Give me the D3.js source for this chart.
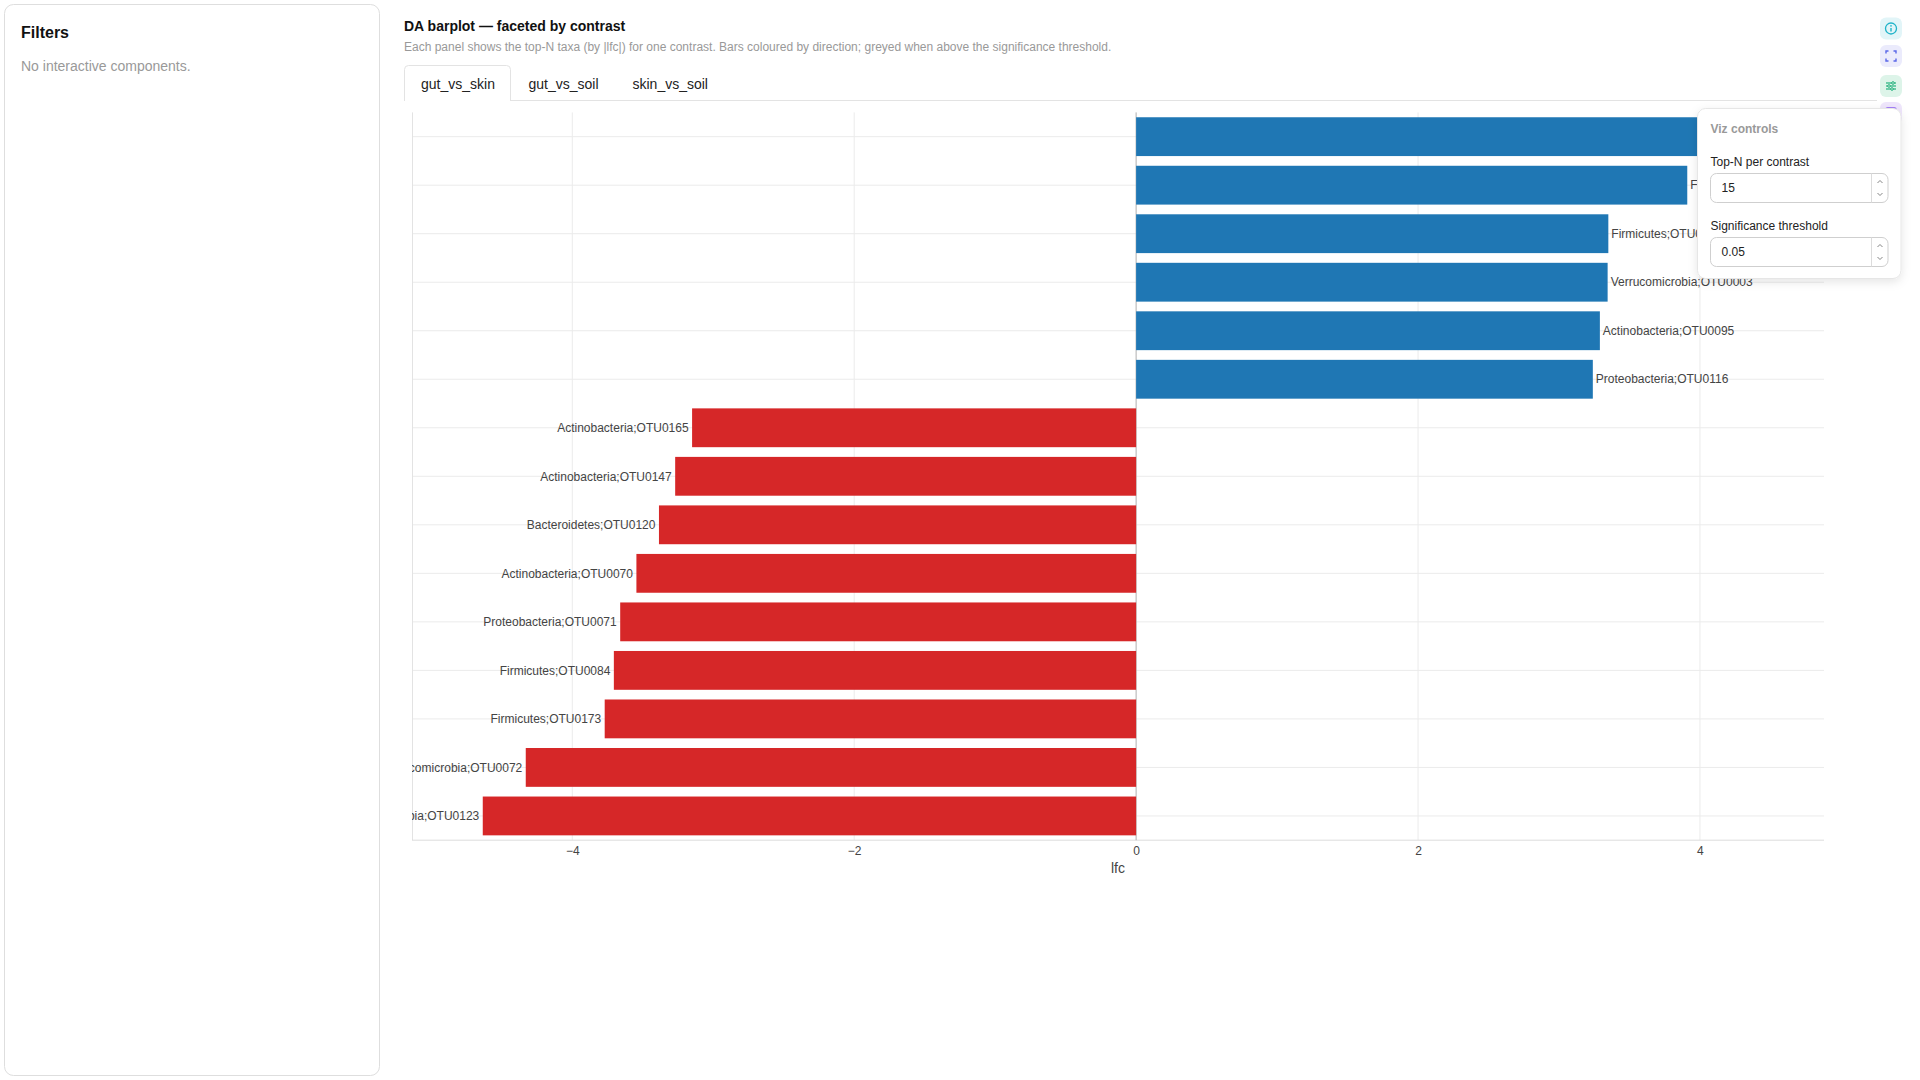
<!DOCTYPE html>
<html>
<head>
<meta charset="utf-8">
<script src="https://cdn.jsdelivr.net/npm/d3@7"></script>
<style>
html,body{margin:0;padding:0;background:#fff;}
svg{display:block;font-family:"Liberation Sans",Arial,sans-serif;}
</style>
</head>
<body>
<div id="page"></div>
<script>
// ---------------- data ----------------
const contrasts = ["gut_vs_skin", "gut_vs_soil", "skin_vs_soil"];
const taxa = [
  "Proteobacteria;OTU0031",
  "Firmicutes;OTU0049",
  "Firmicutes;OTU0018",
  "Verrucomicrobia;OTU0003",
  "Actinobacteria;OTU0095",
  "Proteobacteria;OTU0116",
  "Actinobacteria;OTU0165",
  "Actinobacteria;OTU0147",
  "Bacteroidetes;OTU0120",
  "Actinobacteria;OTU0070",
  "Proteobacteria;OTU0071",
  "Firmicutes;OTU0084",
  "Firmicutes;OTU0173",
  "Verrucomicrobia;OTU0072",
  "Verrucomicrobia;OTU0123"
];
const lfc = [4.38, 3.91, 3.35, 3.345, 3.29, 3.24, -3.15, -3.27, -3.385, -3.545, -3.66, -3.705, -3.77, -4.33, -4.635];
const xTicks = [-4, -2, 0, 2, 4];
const xDomain = [-5.137, 4.88];
const topN = "15";
const sigThreshold = "0.05";

// ---------------- layout ----------------
const W = 1920, H = 1080;
const P = {left: 412, right: 1824, top: 112.4, bottom: 840.2};
const FONT = '"Liberation Sans",Arial,sans-serif';

const svg = d3.select("#page").append("svg").attr("width", W).attr("height", H);
const defs = svg.append("defs");
defs.append("clipPath").attr("id", "plotclip").append("rect")
  .attr("x", P.left).attr("y", P.top).attr("width", P.right - P.left).attr("height", P.bottom - P.top);
const sh = defs.append("filter").attr("id", "shadow").attr("x", "-20%").attr("y", "-20%").attr("width", "140%").attr("height", "150%");
sh.append("feDropShadow").attr("dx", 0).attr("dy", 3).attr("stdDeviation", 5).attr("flood-color", "#000").attr("flood-opacity", 0.10);

// ---------------- filters panel ----------------
svg.append("rect").attr("x", 4.5).attr("y", 4.5).attr("width", 375).attr("height", 1071)
  .attr("rx", 9).attr("fill", "#fff").attr("stroke", "#dedede");
svg.append("text").attr("x", 21).attr("y", 38.3).attr("font-size", 16).attr("font-weight", "bold")
  .attr("fill", "#111").text("Filters");
svg.append("text").attr("x", 21).attr("y", 70.5).attr("font-size", 14).attr("fill", "#999")
  .text("No interactive components.");

// ---------------- header ----------------
svg.append("text").attr("x", 404).attr("y", 30.7).attr("font-size", 14).attr("font-weight", "bold")
  .attr("fill", "#111").text("DA barplot \u2014 faceted by contrast");
svg.append("text").attr("x", 404).attr("y", 51).attr("font-size", 12).attr("fill", "#999")
  .text("Each panel shows the top-N taxa (by |lfc|) for one contrast. Bars coloured by direction; greyed when above the significance threshold.");

// tabs
svg.append("line").attr("x1", 404).attr("x2", 1877).attr("y1", 100.5).attr("y2", 100.5).attr("stroke", "#e3e3e3");
svg.append("path").attr("d", "M404.5,101 V69.5 Q404.5,65.5 408.5,65.5 H506.5 Q510.5,65.5 510.5,69.5 V101")
  .attr("fill", "#fff").attr("stroke", "#e3e3e3");
const tabX = [421, 528.5, 632.5];
svg.selectAll("text.tab").data(contrasts).join("text").attr("class", "tab")
  .attr("x", (d, i) => tabX[i]).attr("y", 88.5).attr("font-size", 14).attr("fill", "#222").text(d => d);

// ---------------- chart ----------------
const x = d3.scaleLinear().domain(xDomain).range([P.left, P.right]);
const y = d3.scaleBand().domain(taxa).range([P.top, P.bottom]).paddingInner(0.2).paddingOuter(0.1);
const yc = t => y(t) + y.bandwidth() / 2;

const g = svg.append("g");
// vertical gridlines
g.selectAll("line.vg").data(xTicks.filter(v => v !== 0)).join("line").attr("class", "vg")
  .attr("x1", d => x(d)).attr("x2", d => x(d)).attr("y1", P.top).attr("y2", P.bottom)
  .attr("stroke", "#ebebeb").attr("stroke-width", 1);
// horizontal gridlines
g.selectAll("line.hg").data(taxa).join("line").attr("class", "hg")
  .attr("x1", P.left).attr("x2", P.right).attr("y1", d => yc(d)).attr("y2", d => yc(d))
  .attr("stroke", "#ebebeb").attr("stroke-width", 1);
// left & bottom frame lines
g.append("line").attr("x1", P.left + 0.5).attr("x2", P.left + 0.5).attr("y1", P.top).attr("y2", P.bottom)
  .attr("stroke", "#e3e3e3");
g.append("line").attr("x1", P.left).attr("x2", P.right).attr("y1", P.bottom).attr("y2", P.bottom)
  .attr("stroke", "#dcdcdc");
// zero line
g.append("line").attr("x1", x(0)).attr("x2", x(0)).attr("y1", P.top).attr("y2", P.bottom)
  .attr("stroke", "#b0b0b0").attr("stroke-width", 1);

// bars
const data = taxa.map((t, i) => ({taxon: t, v: lfc[i]}));
g.selectAll("rect.bar").data(data).join("rect").attr("class", "bar")
  .attr("x", d => x(Math.min(0, d.v)))
  .attr("width", d => Math.abs(x(d.v) - x(0)))
  .attr("y", d => y(d.taxon))
  .attr("height", y.bandwidth())
  .attr("fill", d => d.v >= 0 ? "#1f77b4" : "#d62728");

// bar labels (outside, clipped to plot)
g.append("g").attr("clip-path", "url(#plotclip)")
  .selectAll("text").data(data).join("text")
  .attr("x", d => d.v >= 0 ? x(d.v) + 3 : x(d.v) - 3.5)
  .attr("y", d => yc(d.taxon))
  .attr("dy", "0.35em")
  .attr("text-anchor", d => d.v >= 0 ? "start" : "end")
  .attr("font-size", 12).attr("fill", "#444")
  .text(d => d.taxon);

// x axis
const ax = svg.append("g").attr("transform", `translate(0,${P.bottom})`)
  .call(d3.axisBottom(x).tickValues(xTicks).tickSize(0).tickPadding(6.3));
ax.select(".domain").remove();
ax.selectAll("text").attr("font-size", 12).attr("fill", "#444").attr("font-family", FONT);
svg.append("text").attr("x", (P.left + P.right) / 2).attr("y", 872.7).attr("text-anchor", "middle")
  .attr("font-size", 14).attr("fill", "#444").text("lfc");

// ---------------- toolbar icons ----------------
const icons = [
  {y: 17.5, bg: "#e2f5f8", fg: "#1fb3c9"},
  {y: 45, bg: "#ebebfc", fg: "#5a67e8"},
  {y: 75, bg: "#ddf4e9", fg: "#22b07c"},
  {y: 102, bg: "#efe6fc", fg: "#8b5cf6"}
];
const ig = svg.append("g");
icons.forEach((ic, i) => {
  const gx = 1880, gy = ic.y, cx = gx + 11, cy = gy + 11;
  ig.append("rect").attr("x", gx).attr("y", gy).attr("width", 22).attr("height", 22).attr("rx", 6).attr("fill", ic.bg);
  if (i === 0) {
    ig.append("circle").attr("cx", cx).attr("cy", cy).attr("r", 5.5).attr("fill", "none").attr("stroke", ic.fg).attr("stroke-width", 1.3);
    ig.append("line").attr("x1", cx).attr("x2", cx).attr("y1", cy - 0.5).attr("y2", cy + 3).attr("stroke", ic.fg).attr("stroke-width", 1.4);
    ig.append("circle").attr("cx", cx).attr("cy", cy - 2.6).attr("r", 0.8).attr("fill", ic.fg);
  } else if (i === 1) {
    const s = 5, k = 2.5;
    const p = `M${cx - s},${cy - s + k}V${cy - s}H${cx - s + k} M${cx + s - k},${cy - s}H${cx + s}V${cy - s + k} M${cx + s},${cy + s - k}V${cy + s}H${cx + s - k} M${cx - s + k},${cy + s}H${cx - s}V${cy + s - k}`;
    ig.append("path").attr("d", p).attr("fill", "none").attr("stroke", ic.fg).attr("stroke-width", 1.4);
  } else if (i === 2) {
    [-3, 0, 3].forEach((dy, j) => {
      ig.append("line").attr("x1", cx - 5).attr("x2", cx + 5).attr("y1", cy + dy).attr("y2", cy + dy).attr("stroke", ic.fg).attr("stroke-width", 1.2);
      ig.append("circle").attr("cx", cx + [2, -2, 1][j]).attr("cy", cy + dy).attr("r", 1.3).attr("fill", ic.bg).attr("stroke", ic.fg).attr("stroke-width", 1);
    });
  } else {
    ig.append("rect").attr("x", cx - 5).attr("y", cy - 5).attr("width", 10).attr("height", 10).attr("rx", 1.5)
      .attr("fill", "none").attr("stroke", ic.fg).attr("stroke-width", 1.4);
  }
});

// ---------------- viz controls popup ----------------
const pop = svg.append("g");
pop.append("rect").attr("x", 1697.5).attr("y", 108.5).attr("width", 203.5).attr("height", 170).attr("rx", 8)
  .attr("fill", "#fff").attr("stroke", "#e6e6e6").attr("filter", "url(#shadow)");
pop.append("text").attr("x", 1710.5).attr("y", 133.3).attr("font-size", 12).attr("font-weight", "bold")
  .attr("fill", "#999").text("Viz controls");
const fields = [
  {label: "Top-N per contrast", value: topN, ly: 165.6, top: 173.5},
  {label: "Significance threshold", value: sigThreshold, ly: 229.6, top: 237.5}
];
fields.forEach(f => {
  pop.append("text").attr("x", 1710.5).attr("y", f.ly).attr("font-size", 12).attr("fill", "#222").text(f.label);
  pop.append("rect").attr("x", 1710.5).attr("y", f.top).attr("width", 177.5).attr("height", 29).attr("rx", 6)
    .attr("fill", "#fff").attr("stroke", "#cfcfcf");
  pop.append("text").attr("x", 1721.5).attr("y", f.top + 18.8).attr("font-size", 12).attr("fill", "#222").text(f.value);
  pop.append("line").attr("x1", 1871.5).attr("x2", 1871.5).attr("y1", f.top).attr("y2", f.top + 29).attr("stroke", "#dcdcdc");
  const cx = 1880;
  pop.append("path").attr("d", `M${cx - 2.5},${f.top + 9.5}L${cx},${f.top + 7}L${cx + 2.5},${f.top + 9.5}`)
    .attr("fill", "none").attr("stroke", "#777").attr("stroke-width", 0.9);
  pop.append("path").attr("d", `M${cx - 2.5},${f.top + 19.5}L${cx},${f.top + 22}L${cx + 2.5},${f.top + 19.5}`)
    .attr("fill", "none").attr("stroke", "#777").attr("stroke-width", 0.9);
});
</script>
</body>
</html>
